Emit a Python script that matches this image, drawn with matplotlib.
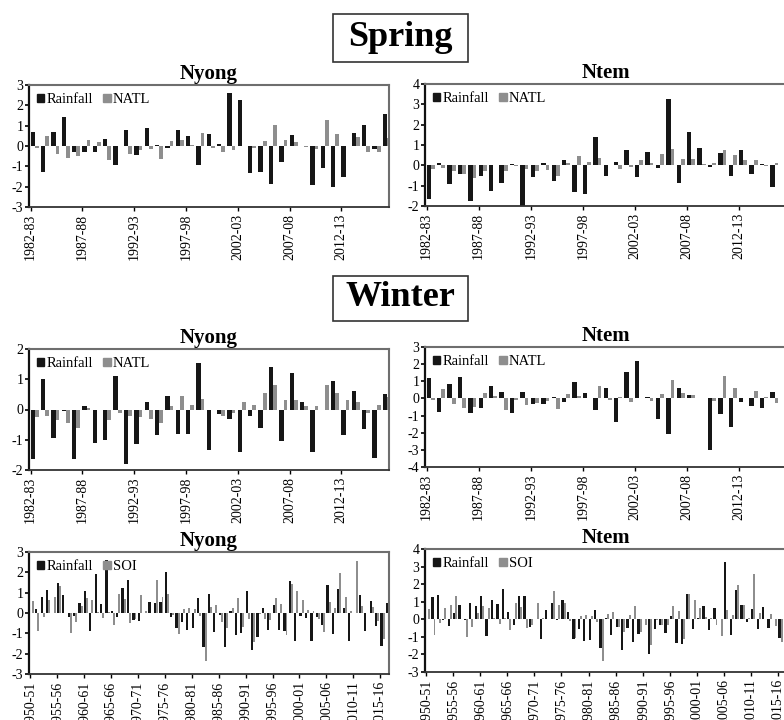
import numpy as np
import matplotlib
matplotlib.use("Agg")
import matplotlib.pyplot as plt
from matplotlib.patches import Patch, Rectangle

plt.rcParams['font.family'] = ['Liberation Serif', 'DejaVu Serif']
plt.rcParams['axes.unicode_minus'] = False

# ---- data (standardised anomalies) ----
years_short = [f"{y}-{str(y + 1)[-2:]}" for y in range(1982, 2017)]
years_long = [f"{y}-{str(y + 1)[-2:]}" for y in range(1950, 2017)]

spring_nyong_rain = [0.7, -1.3, 0.7, 1.45, -0.3, -0.3, -0.3, 0.35, -0.95, 0.8,
                     -0.45, 0.9, 0.05, -0.1, 0.8, 0.5, -0.95, 0.6, 0.1, 2.6,
                     2.25, -1.35, -1.3, -1.85, -0.8, 0.55, 0.0, -1.9, -1.1, -2.0,
                     -1.5, 0.65, 1.05, -0.15, 1.55]
spring_nyong_natl = [-0.1, 0.5, -0.4, -0.6, -0.5, 0.3, 0.2, -0.7, 0.0, -0.4,
                     -0.2, -0.15, -0.65, 0.25, 0.3, 0.05, 0.65, -0.1, -0.3, -0.2,
                     0.0, -0.1, 0.25, 1.05, 0.3, 0.2, -0.05, -0.15, 1.3, 0.6,
                     0.0, 0.45, -0.3, -0.3, 0.4]

spring_ntem_rain = [-1.65, 0.1, -0.9, -0.45, -1.75, -0.5, -1.25, -0.85, 0.05, -2.0,
                    -0.55, 0.1, -0.75, 0.25, -1.3, -1.4, 1.4, -0.5, 0.15, 0.75,
                    -0.55, 0.65, -0.15, 3.25, -0.85, 1.65, 0.85, -0.1, 0.6, -0.5,
                    0.75, -0.45, 0.05, -1.05, 0.0]
spring_ntem_natl = [-0.2, -0.15, -0.3, -0.45, -0.6, -0.3, 0.0, -0.3, -0.05, -0.2,
                    -0.3, -0.25, -0.5, 0.1, 0.45, 0.15, 0.35, 0.0, -0.2, -0.1,
                    0.25, 0.1, 0.55, 0.8, 0.3, 0.3, 0.05, 0.1, 0.75, 0.5,
                    0.25, 0.25, -0.05, 0.1, 0.0]

winter_nyong_rain = [-1.65, 1.0, -0.95, -0.05, -1.65, 0.12, -1.1, -1.0, 1.1, -1.8,
                     -1.15, 0.25, -0.85, 0.45, -0.8, -0.8, 1.55, -1.35, -0.15, -0.3,
                     -1.4, -0.2, -0.6, 1.4, -1.05, 1.2, 0.25, -1.4, 0.0, 0.95,
                     -0.85, 0.6, -0.65, -1.6, 0.5]
winter_nyong_natl = [-0.25, -0.2, -0.35, -0.45, -0.6, 0.05, 0.0, -0.35, -0.1, -0.2,
                     -0.25, -0.3, -0.45, 0.1, 0.45, 0.15, 0.35, 0.0, -0.2, -0.1,
                     0.25, 0.15, 0.55, 0.8, 0.3, 0.3, 0.1, 0.1, 0.8, 0.55,
                     0.3, 0.25, -0.1, 0.15, 0.4]

winter_ntem_rain = [1.2, -0.8, 0.85, 1.25, -0.85, -0.55, 0.7, 0.35, -0.85, 0.35,
                    -0.3, -0.3, 0.1, -0.2, 0.95, 0.3, -0.7, 0.6, -1.35, 1.55,
                    2.2, 0.1, -1.2, -2.1, 0.6, 0.2, 0.05, -3.0, -0.9, -1.65,
                    -0.2, -0.45, -0.55, 0.4, 0.0]
winter_ntem_natl = [-0.1, 0.55, -0.35, -0.55, -0.5, 0.3, 0.15, -0.65, -0.1, -0.4,
                    -0.25, -0.15, -0.6, 0.25, 0.15, 0.05, 0.7, -0.1, 0.1, -0.2,
                    0.05, -0.15, 0.25, 1.05, 0.3, 0.2, 0.0, -0.15, 1.3, 0.6,
                    0.05, 0.45, 0.1, -0.25, 0.0]

soi = [0.6, -0.9, -0.2, 0.65, 0.8, 1.35, 0.0, -1.0, -0.45, 0.35,
       0.75, 0.65, 0.05, -0.25, 0.05, -0.6, 0.95, 0.7, -0.5, -0.3,
       0.9, 0.1, 0.0, 1.6, 0.8, 0.95, -0.1, -1.05, 0.2, 0.25,
       0.2, -0.15, -2.35, 0.3, 0.4, -0.45, -0.75, 0.25, 0.75, -0.7,
       -0.3, -1.45, -0.05, -0.3, -0.35, 0.75, 0.45, -1.1, 1.45, 1.1,
       0.65, 0.15, 0.1, -0.3, -0.95, 0.55, 0.25, 1.95, 0.8, 0.1,
       2.55, 0.35, 0.0, 0.3, -0.4, -1.3, 0.0]
annual_nyong_rain = [0.0, 0.2, 0.8, 1.15, 0.0, 1.5, 0.9, -0.2, -0.15, 0.5,
                     1.1, -0.9, 1.9, 0.45, 2.6, 0.1, -0.2, 1.25, 1.6, -0.35,
                     -0.4, 0.0, 0.55, 0.5, 0.55, 2.0, -0.2, -0.75, -0.45, -0.85,
                     -0.75, 0.75, -1.65, 0.95, -0.95, -0.1, -1.65, 0.1, -1.1, -1.0,
                     1.1, -1.8, -1.2, 0.25, -0.85, 0.4, -0.85, -0.9, 1.55, -1.4,
                     -0.15, -0.25, -1.4, -0.2, -0.6, 1.4, -1.05, 1.2, 0.25, -1.4,
                     0.0, 0.9, -0.9, 0.6, -0.65, -1.6, 0.5]
annual_ntem_rain = [0.0, 1.25, 1.4, -0.05, -0.4, 0.35, 0.8, -0.05, 0.95, 0.75,
                    1.3, -0.95, 1.1, 0.85, 1.7, 0.4, -0.3, 1.3, 1.35, -0.45,
                    0.0, -1.1, 0.55, 0.95, -0.05, 1.1, 0.4, -1.15, -0.55, -1.25,
                    -1.2, 0.55, -1.65, 0.1, -0.9, -0.45, -1.75, -0.5, -1.3, -0.85,
                    0.0, -1.95, -0.55, -0.3, -0.8, 0.2, -1.35, -1.4, 1.45, -0.55,
                    0.1, 0.75, -0.6, 0.65, 0.0, 3.25, -0.9, 1.65, 0.8, -0.15,
                    0.6, -0.55, 0.7, -0.5, 0.0, -1.05, -0.3]

BLACK = '#161616'
GREY = '#8e8e8e'

fig = plt.figure(figsize=(7.84, 7.2), dpi=100)
W, H = 784.0, 720.0


def add_panel(left, top, right, bottom, title, labels, rain, idx, idx_name, ylim):
    ax = fig.add_axes([left / W, 1 - bottom / H, (right - left) / W, (bottom - top) / H])
    x = np.arange(len(labels))
    ax.bar(x, rain, width=0.42, align='edge', color=BLACK, linewidth=0)
    ax.bar(x + 0.42, idx, width=0.36, align='edge', color=GREY, linewidth=0)
    ax.set_xlim(-0.15, len(labels) - 0.4)
    ax.set_ylim(*ylim)
    ax.set_yticks(range(ylim[0], ylim[1] + 1))
    ax.set_xticks(x[::5])
    ax.set_xticklabels(labels[::5], rotation=90, fontsize=10)
    ax.tick_params(axis='y', labelsize=10, length=3, pad=1, width=1.2)
    ax.tick_params(axis='x', length=3, pad=2, width=1)
    for side in ['top', 'right']:
        ax.spines[side].set_color('#6e6e6e')
        ax.spines[side].set_linewidth(1.5)
    ax.spines['left'].set_color('#111111')
    ax.spines['left'].set_linewidth(1.6)
    ax.spines['bottom'].set_color('#333333')
    ax.spines['bottom'].set_linewidth(1.3)
    handles = [Patch(color=BLACK, label='Rainfall'), Patch(color=GREY, label=idx_name)]
    ax.legend(handles=handles, loc='upper left', ncol=2, frameon=False, fontsize=10.5,
              handlelength=0.5, handleheight=0.5, handletextpad=0.15,
              columnspacing=0.7, borderaxespad=0.3, borderpad=0.25)
    fig.text((left + right) / 2 / W, 1 - (top - 11) / H, title, ha='center', va='center',
             fontsize=15, fontweight='bold')
    return ax


def season_box(cx, cy, w, h, text):
    fig.patches.append(Rectangle(((cx - w / 2) / W, 1 - (cy + h / 2) / H), w / W, h / H,
                                 transform=fig.transFigure, fill=False,
                                 edgecolor='#333333', linewidth=1.2))
    fig.text(cx / W, 1 - cy / H, text, ha='center', va='center',
             fontsize=26, fontweight='bold')


season_box(400, 38, 135, 48, 'Spring')
season_box(400, 298, 135, 45, 'Winter')

add_panel(29, 85, 389, 207, 'Nyong', years_short, spring_nyong_rain, spring_nyong_natl, 'NATL', (-3, 3))
add_panel(425, 84, 787, 206, 'Ntem', years_short, spring_ntem_rain, spring_ntem_natl, 'NATL', (-2, 4))
add_panel(29, 349, 389, 470, 'Nyong', years_short, winter_nyong_rain, winter_nyong_natl, 'NATL', (-2, 2))
add_panel(425, 347, 787, 467, 'Ntem', years_short, winter_ntem_rain, winter_ntem_natl, 'NATL', (-4, 3))
add_panel(29, 552, 389, 674, 'Nyong', years_long, annual_nyong_rain, soi, 'SOI', (-3, 3))
add_panel(425, 549, 787, 672, 'Ntem', years_long, annual_ntem_rain, soi, 'SOI', (-3, 4))

fig.savefig('out.png', dpi=100)
